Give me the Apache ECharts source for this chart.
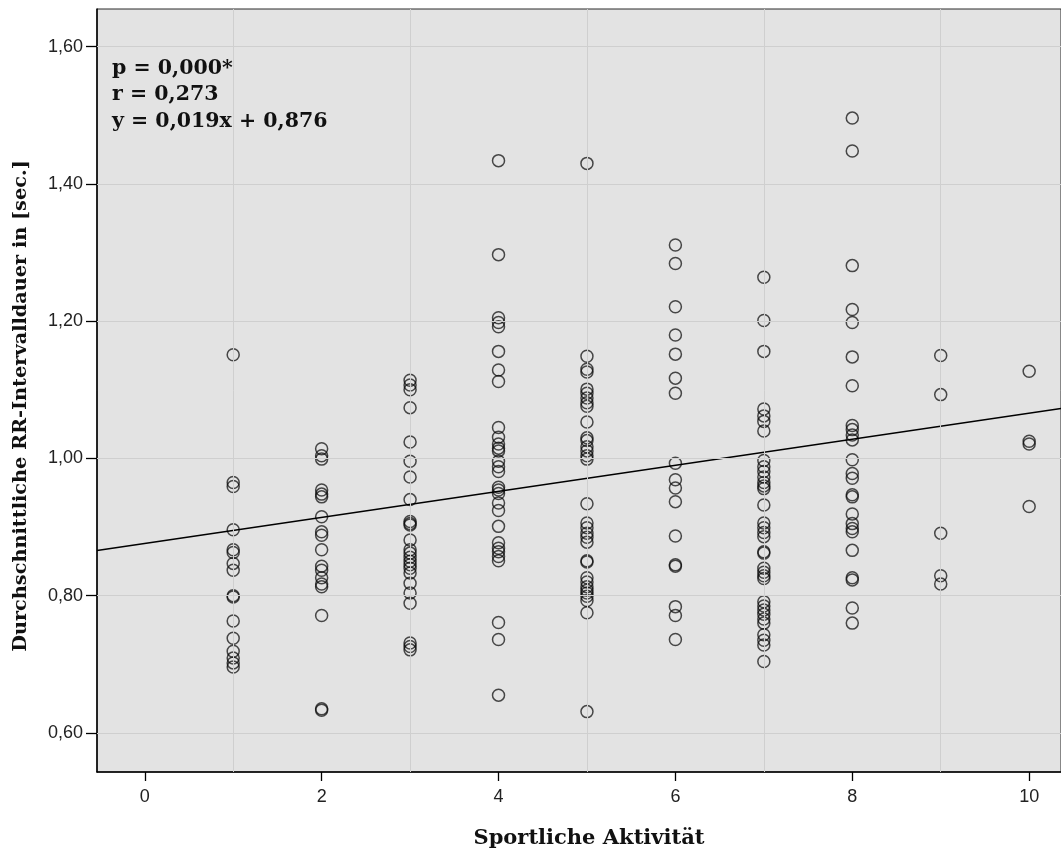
<!DOCTYPE html>
<html>
<head>
<meta charset="utf-8">
<script src="https://cdn.jsdelivr.net/npm/echarts@6/dist/echarts.min.js"></script>
<style>
  html, body { margin: 0; padding: 0; background: #ffffff; }
  #chart { width: 1061px; height: 859px; }
</style>
</head>
<body>
<div id="chart"></div>
<script>
// Sportliche Aktivität (Stufe) und durchschnittliche RR-Intervalldauer [sec.]
const stufen = [1, 2, 3, 4, 5, 6, 7, 8, 9, 10];

const rrStufe1 = [1.151, 0.965, 0.959, 0.896, 0.867, 0.863, 0.847, 0.837, 0.800, 0.798, 0.763, 0.738, 0.719, 0.709, 0.702, 0.696];
const rrStufe2 = [1.014, 1.004, 0.999, 0.954, 0.948, 0.944, 0.915, 0.893, 0.888, 0.867, 0.843, 0.837, 0.826, 0.817, 0.813, 0.771, 0.635, 0.633];
const rrStufe3 = [1.114, 1.107, 1.100, 1.074, 1.024, 0.996, 0.973, 0.940, 0.908, 0.905, 0.903, 0.881, 0.867, 0.862, 0.856, 0.850, 0.845, 0.840, 0.833, 0.818, 0.804, 0.789, 0.731, 0.726, 0.721];
const rrStufe4 = [1.434, 1.297, 1.205, 1.198, 1.192, 1.156, 1.129, 1.112, 1.045, 1.031, 1.021, 1.015, 1.011, 0.996, 0.988, 0.981, 0.958, 0.954, 0.949, 0.935, 0.924, 0.901, 0.877, 0.869, 0.864, 0.857, 0.851, 0.761, 0.736, 0.655];
const rrStufe5 = [1.430, 1.149, 1.130, 1.126, 1.101, 1.095, 1.088, 1.081, 1.076, 1.053, 1.030, 1.026, 1.017, 1.011, 1.004, 0.999, 0.934, 0.906, 0.899, 0.891, 0.885, 0.878, 0.851, 0.849, 0.826, 0.820, 0.813, 0.808, 0.804, 0.799, 0.793, 0.775, 0.631];
const rrStufe6 = [1.311, 1.284, 1.221, 1.180, 1.152, 1.117, 1.095, 0.993, 0.969, 0.957, 0.937, 0.887, 0.845, 0.843, 0.784, 0.771, 0.736];
const rrStufe7 = [1.264, 1.201, 1.156, 1.072, 1.062, 1.054, 1.040, 0.997, 0.988, 0.981, 0.973, 0.965, 0.960, 0.956, 0.932, 0.906, 0.899, 0.892, 0.886, 0.864, 0.862, 0.840, 0.834, 0.829, 0.825, 0.791, 0.785, 0.779, 0.773, 0.766, 0.760, 0.743, 0.735, 0.728, 0.704];
const rrStufe8 = [1.496, 1.448, 1.281, 1.217, 1.198, 1.148, 1.106, 1.048, 1.042, 1.034, 1.027, 0.998, 0.978, 0.971, 0.947, 0.944, 0.919, 0.905, 0.898, 0.893, 0.866, 0.826, 0.823, 0.782, 0.760];
const rrStufe9 = [1.150, 1.093, 0.891, 0.829, 0.817];
const rrStufe10 = [1.127, 1.025, 1.021, 0.930];

const rrJeStufe = [rrStufe1, rrStufe2, rrStufe3, rrStufe4, rrStufe5, rrStufe6, rrStufe7, rrStufe8, rrStufe9, rrStufe10];

// Lineare Regression (aus der Beschriftung)
const steigung = 0.019;
const achsenabschnitt = 0.876;
const statText = ['p = 0,000*', 'r = 0,273', 'y = 0,019x + 0,876'];

// Achsen
const xBereich = [-0.54, 10.36];
const yBereich = [0.543, 1.655];
const xTicks = [0, 2, 4, 6, 8, 10];
const xGitter = [1, 3, 5, 7, 9];
const yTicks = [0.6, 0.8, 1.0, 1.2, 1.4, 1.6];

const xTitel = 'Sportliche Aktivität';
const yTitel = 'Durchschnittliche RR-Intervalldauer in [sec.]';

const punkte = [];
stufen.forEach((s, i) => rrJeStufe[i].forEach(v => punkte.push([s, v])));

const regLinie = xBereich.map(x => [x, achsenabschnitt + steigung * x]);

const komma = v => v.toFixed(2).replace('.', ',');
const serif = "'DejaVu Serif', 'Liberation Serif', serif";
const sans = "'Liberation Sans', Arial, sans-serif";
const gitterStil = { color: '#cfcfcf', width: 1, type: 'solid' };

const chart = echarts.init(document.getElementById('chart'), null, { renderer: 'canvas' });
chart.setOption({
  animation: false,
  backgroundColor: '#ffffff',
  grid: {
    left: 97, top: 9, right: -1, bottom: 87,
    show: true, backgroundColor: '#e3e3e3', borderColor: '#2a2a2a', borderWidth: 1
  },
  xAxis: {
    type: 'value',
    min: xBereich[0], max: xBereich[1],
    axisLine: { show: true, onZero: false, lineStyle: { color: '#000', width: 1.5 } },
    axisTick: { show: true, customValues: xTicks, length: 9, lineStyle: { color: '#000', width: 1.3 } },
    axisLabel: { customValues: xTicks, margin: 16, fontSize: 18, fontFamily: sans, color: '#222',
      formatter: v => String(v) },
    splitLine: { show: false }
  },
  yAxis: {
    type: 'value',
    min: yBereich[0], max: yBereich[1],
    axisLine: { show: true, onZero: false, lineStyle: { color: '#000', width: 1.5 } },
    axisTick: { show: true, customValues: yTicks, length: 11, lineStyle: { color: '#000', width: 1.3 } },
    axisLabel: { customValues: yTicks, margin: 14, fontSize: 18, fontFamily: sans, color: '#222',
      formatter: v => komma(v) },
    splitLine: { show: false }
  },
  graphic: [
    {
      type: 'text', left: 112, top: 55, z: 10,
      style: { text: statText.join('\n'), font: 'bold 20.5px ' + serif, lineHeight: 26.5, fill: '#111' }
    },
    {
      type: 'text', x: 589, y: 839, z: 10,
      style: { text: xTitel, font: 'bold 21px ' + serif, fill: '#111', align: 'center', verticalAlign: 'middle' }
    },
    {
      type: 'text', x: 21, y: 406, rotation: Math.PI / 2, z: 10,
      style: { text: yTitel, font: 'bold 19.3px ' + serif, fill: '#111', align: 'center', verticalAlign: 'middle' }
    }
  ],
  series: [
    {
      // Gitterlinien
      type: 'scatter', data: [], z: 1, silent: true,
      markLine: {
        silent: true, symbol: 'none', animation: false,
        label: { show: false },
        lineStyle: gitterStil,
        data: yTicks.map(v => ({ yAxis: v })).concat(xGitter.map(v => ({ xAxis: v })))
      }
    },
    {
      type: 'scatter',
      data: punkte,
      symbol: 'circle',
      symbolSize: 12,
      z: 3,
      itemStyle: { color: 'rgba(0,0,0,0)', borderColor: 'rgba(10,10,10,0.9)', borderWidth: 1.5 }
    },
    {
      type: 'line',
      data: regLinie,
      showSymbol: false,
      z: 4,
      lineStyle: { color: '#000', width: 1.4 }
    }
  ]
});
</script>
</body>
</html>
